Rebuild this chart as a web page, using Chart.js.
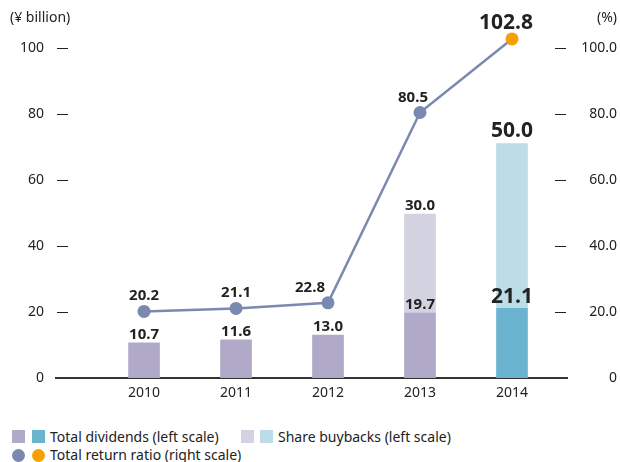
<!DOCTYPE html>
<html>
<head>
<meta charset="utf-8">
<script src="https://cdn.jsdelivr.net/npm/chart.js@4.4.1/dist/chart.umd.min.js"></script>
<style>
  body { margin: 0; background: #fff; font-family: "Noto Sans", sans-serif; color: #222; }
  #wrap { position: relative; width: 620px; height: 462px; overflow: hidden; }
  canvas { position: absolute; left: 0; top: 0; }
  .sw { position: absolute; width: 13px; height: 13px; }
  .dot { position: absolute; width: 13px; height: 13px; border-radius: 50%; }
  .lt { position: absolute; font-size: 14px; line-height: 16px; white-space: nowrap; }
</style>
</head>
<body>
<div id="wrap">
  <canvas id="chart" width="620" height="425"></canvas>
  <div class="sw" style="left:12px;top:430px;background:#b0aac8"></div>
  <div class="sw" style="left:32px;top:430px;background:#6ab4cf"></div>
  <div class="lt" style="left:50px;top:429px">Total dividends (left scale)</div>
  <div class="sw" style="left:241px;top:430px;background:#d2d2e0"></div>
  <div class="sw" style="left:260px;top:430px;background:#bcdce8"></div>
  <div class="lt" style="left:278px;top:429px">Share buybacks (left scale)</div>
  <div class="dot" style="left:12px;top:449px;background:#7b88b0"></div>
  <div class="dot" style="left:32px;top:449px;background:#f5a000"></div>
  <div class="lt" style="left:50px;top:447px">Total return ratio (right scale)</div>
</div>
<script>
const years = ['2010', '2011', '2012', '2013', '2014'];
const dividends = [10.7, 11.6, 13.0, 19.7, 21.1];
const buybacks = [null, null, null, 30.0, 50.0];
const returnRatio = [20.2, 21.1, 22.8, 80.5, 102.8];
const leftTicks = [0, 20, 40, 60, 80, 100];
const rightTicks = [0, 20, 40, 60, 80, 100];

const divColors = ['#b0aac8', '#b0aac8', '#b0aac8', '#b0aac8', '#6ab4cf'];
const buyColors = ['#d2d2e0', '#d2d2e0', '#d2d2e0', '#d2d2e0', '#bcdce8'];
const pointColors = ['#7b88b0', '#7b88b0', '#7b88b0', '#7b88b0', '#f5a000'];
// horizontal nudge of the ratio labels so they clear the line
const ratioLabelShift = [0, 0, -18, -7, -6];

const toXY = arr => arr.map((v, i) => ({ x: i, y: v }));

// value labels, little tick dashes and unit captions
const extras = {
  id: 'extras',
  afterDatasetsDraw(chart) {
    const ctx = chart.ctx;
    const area = chart.chartArea;
    ctx.save();
    ctx.fillStyle = '#222';
    ctx.textAlign = 'center';
    ctx.textBaseline = 'alphabetic';
    const big = i => i === 4;

    chart.getDatasetMeta(0).data.forEach((el, i) => {
      if (dividends[i] == null) return;
      ctx.font = big(i) ? 'bold 21px "Noto Sans"' : 'bold 15px "Noto Sans"';
      ctx.fillText(dividends[i].toFixed(1), el.x, el.y - (big(i) ? 5 : 4));
    });
    chart.getDatasetMeta(1).data.forEach((el, i) => {
      if (buybacks[i] == null) return;
      ctx.font = big(i) ? 'bold 21px "Noto Sans"' : 'bold 15px "Noto Sans"';
      ctx.fillText(buybacks[i].toFixed(1), el.x, el.y - (big(i) ? 7 : 4));
    });
    chart.getDatasetMeta(2).data.forEach((el, i) => {
      ctx.font = big(i) ? 'bold 21px "Noto Sans"' : 'bold 15px "Noto Sans"';
      ctx.fillText(returnRatio[i].toFixed(1), el.x + ratioLabelShift[i], el.y - (big(i) ? 10 : 11));
    });

    // tick dashes inside the plot
    ctx.strokeStyle = '#222';
    ctx.lineWidth = 1;
    const yl = chart.scales.y, yr = chart.scales.y2;
    leftTicks.forEach(v => {
      if (v === 0) return;
      const py = Math.round(yl.getPixelForValue(v)) + 0.5;
      ctx.beginPath(); ctx.moveTo(area.left + 1, py); ctx.lineTo(area.left + 12, py); ctx.stroke();
    });
    rightTicks.forEach(v => {
      if (v === 0) return;
      const py = Math.round(yr.getPixelForValue(v)) + 0.5;
      ctx.beginPath(); ctx.moveTo(area.right - 12, py); ctx.lineTo(area.right - 1, py); ctx.stroke();
    });

    ctx.font = '14px "Noto Sans"';
    ctx.textBaseline = 'middle';
    ctx.textAlign = 'left';
    ctx.fillText('(¥ billion)', 10, 18);
    ctx.textAlign = 'right';
    ctx.fillText('(%)', 617, 18);
    ctx.restore();
  }
};

new Chart(document.getElementById('chart'), {
  type: 'bar',
  data: {
    datasets: [
      {
        label: 'Total dividends (left scale)',
        data: toXY(dividends),
        backgroundColor: divColors,
        barThickness: 31,
        yAxisID: 'y',
        order: 2
      },
      {
        label: 'Share buybacks (left scale)',
        data: toXY(buybacks),
        backgroundColor: buyColors,
        barThickness: 31,
        yAxisID: 'y',
        order: 2
      },
      {
        type: 'line',
        label: 'Total return ratio (right scale)',
        data: toXY(returnRatio),
        borderColor: '#7b88b0',
        borderWidth: 2.5,
        pointRadius: 6.5,
        pointBorderWidth: 0,
        pointBackgroundColor: pointColors,
        yAxisID: 'y2',
        clip: false,
        order: 0
      }
    ]
  },
  options: {
    responsive: false,
    animation: false,
    layout: { padding: { top: 35, right: 3, left: 0, bottom: 0 } },
    plugins: { legend: { display: false }, tooltip: { enabled: false } },
    scales: {
      x: {
        type: 'linear',
        stacked: true,
        offset: false,
        min: -0.957,
        max: 4.598,
        grid: { display: false, drawTicks: false, offset: false },
        border: { display: true, color: '#333', width: 2 },
        afterBuildTicks: s => { s.ticks = years.map((_, i) => ({ value: i })); },
        afterFit: s => { s.height = 47; },
        ticks: {
          padding: 7,
          color: '#222',
          font: { family: 'Noto Sans', size: 14 },
          callback: v => years[v]
        }
      },
      y: {
        position: 'left',
        stacked: true,
        min: 0,
        max: 104,
        grid: { display: false, drawTicks: false },
        border: { display: false },
        afterBuildTicks: s => { s.ticks = leftTicks.map(v => ({ value: v })); },
        afterFit: s => { s.width = 56; },
        ticks: {
          padding: 12,
          color: '#222',
          font: { family: 'Noto Sans', size: 14 }
        }
      },
      y2: {
        position: 'right',
        min: 0,
        max: 104,
        grid: { display: false, drawTicks: false },
        border: { display: false },
        afterBuildTicks: s => { s.ticks = rightTicks.map(v => ({ value: v })); },
        afterFit: s => { s.width = 50; },
        ticks: {
          crossAlign: 'far',
          color: '#222',
          font: { family: 'Noto Sans', size: 14 },
          callback: v => (v === 0 ? '0' : v.toFixed(1))
        }
      }
    }
  },
  plugins: [extras]
});
</script>
</body>
</html>
